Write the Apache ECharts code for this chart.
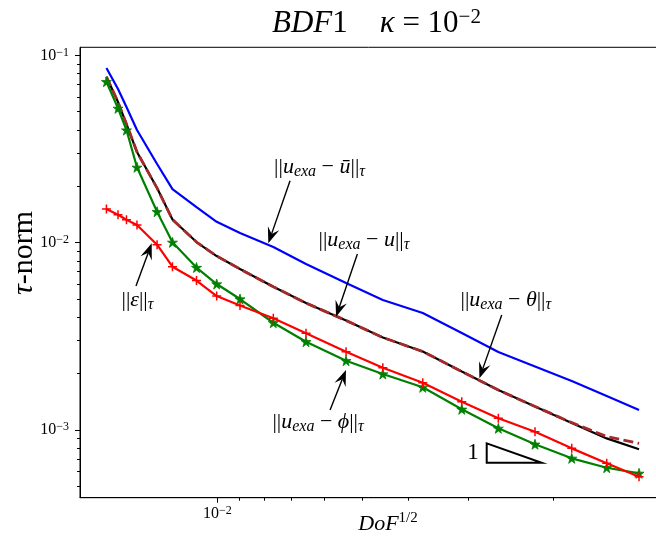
<!DOCTYPE html>
<html><head><meta charset="utf-8">
<script src="https://cdn.jsdelivr.net/npm/echarts@6/dist/echarts.min.js"></script>
<style>html,body{margin:0;padding:0;background:#fff}#c{width:656px;height:541px}</style>
</head><body><div id="c"></div>
<script>
// ---- data ----
const h = [0.01702, 0.01610, 0.01546, 0.01470, 0.01335, 0.01240, 0.01105, 0.01003, 0.008969, 0.007644,
           0.006535, 0.005393, 0.004521, 0.003733, 0.003096, 0.002598, 0.002179, 0.001827, 0.001545, 0.001323];
const errUbar  = [0.08554, 0.06607, 0.05297, 0.03992, 0.02629, 0.01933, 0.01549, 0.01293, 0.01126, 0.009480,
                  0.007691, 0.006090, 0.004942, 0.004211, 0.003294, 0.002608, 0.002183, 0.001827, 0.001519, 0.001279];
const errU     = [0.07686, 0.05632, 0.04298, 0.03048, 0.01957, 0.01329, 0.01008, 0.008485, 0.007234, 0.005818,
                  0.004763, 0.003842, 0.003118, 0.002624, 0.002053, 0.001635, 0.001335, 0.001096, 0.000923, 0.000849];
const errTheta = [0.07686, 0.05632, 0.04298, 0.03048, 0.01957, 0.01329, 0.01008, 0.008485, 0.007234, 0.005818,
                  0.004763, 0.003842, 0.003118, 0.002624, 0.002053, 0.001635, 0.001335, 0.001090, 0.000902, 0.000790];
const errPhi   = [0.07229, 0.05213, 0.03992, 0.02525, 0.01463, 0.01004, 0.007368, 0.006016, 0.005003, 0.003737,
                  0.002960, 0.002344, 0.001990, 0.001690, 0.001290, 0.001021, 0.000839, 0.000706, 0.000629, 0.000587];
const errEps   = [0.01512, 0.01410, 0.01326, 0.01242, 0.00975, 0.007440, 0.006281, 0.005190, 0.004617, 0.003946,
                  0.003282, 0.002617, 0.002150, 0.001788, 0.001416, 0.001155, 0.000979, 0.000798, 0.000664, 0.000563];

// axis limits (real values) and tick values
const xLimits = [0.001208, 0.01932];   // axis is reversed: large h on the left
const yLimits = [0.0004352, 0.1104];
const xMajorTicks = [0.01];
const yMajorTicks = [0.1, 0.01, 0.001];

// annotations: text position, arrow tail, arrow tip (data values)
const annUbar  = {pos: [0.006124, 0.02543], tail: [0.007055, 0.02142], tip: [0.007830, 0.009920]};
const annU     = {pos: [0.004948, 0.01033], tail: [0.005108, 0.008700], tip: [0.005658, 0.004025]};
const annTheta = {pos: [0.002506, 0.004943], tail: [0.002556, 0.004109], tip: [0.002845, 0.001888]};
const annPhi   = {pos: [0.006168, 0.001107], tail: [0.005823, 0.001278], tip: [0.005395, 0.002091]};
const annEps   = {pos: [0.014665, 0.004943], tail: [0.014770, 0.005869], tip: [0.013698, 0.009920]};
const slopeTri = [[0.002747, 0.0008492], [0.002747, 0.0006691], [0.002110, 0.0006691]];
const slopeLabelPos = [0.002933, 0.0007508];

// ---- helpers ----
const L = Math.log10;
const pairs = ys => h.map((x, i) => [L(x), L(ys[i])]);
function minorTicks(lim) {
  const out = [];
  for (let e = -6; e <= 1; e++) for (let k = 2; k <= 9; k++) {
    const v = k * Math.pow(10, e);
    if (v >= lim[0] && v <= lim[1]) out.push(L(v));
  }
  return out;
}
const serif = 'Liberation Serif';
const tickRich = {
  b: {fontFamily: serif, fontSize: 16, lineHeight: 18, color: '#000'},
  s: {fontFamily: serif, fontSize: 12, lineHeight: 11, verticalAlign: 'top', color: '#000'}
};
const fmtPow = v => '{b|10}{s|−' + Math.round(-v) + '}';

const STAR = (() => {
  const p = [];
  for (let i = 0; i < 10; i++) {
    const r = i % 2 === 0 ? 1 : 0.381966, a = Math.PI / 2 + i * Math.PI / 5;
    p.push((r * Math.cos(a)).toFixed(4) + ',' + (-r * Math.sin(a)).toFixed(4));
  }
  return 'path://M' + p.join('L') + 'Z';
})();
const PLUS = 'path://M0,-1L0,1M-1,0L1,0';

const chart = echarts.init(document.getElementById('c'), null, {renderer: 'canvas'});

chart.setOption({
  animation: false,
  backgroundColor: '#fff',
  grid: {left: 80, right: -2, top: 47.3, bottom: 43.3, show: true, borderColor: '#000', borderWidth: 1,
         backgroundColor: 'transparent', containLabel: false, outerBoundsMode: 'none'},
  xAxis: [
    {type: 'value', min: L(xLimits[0]), max: L(xLimits[1]), inverse: true, position: 'bottom',
     axisLine: {show: true, onZero: false, lineStyle: {color: '#000', width: 1}},
     axisTick: {show: true, length: 5, customValues: xMajorTicks.map(L), lineStyle: {color: '#000', width: 1}},
     axisLabel: {show: true, customValues: xMajorTicks.map(L), formatter: fmtPow, rich: tickRich, margin: 7},
     splitLine: {show: false}},
    {type: 'value', min: L(xLimits[0]), max: L(xLimits[1]), inverse: true, position: 'bottom',
     axisLine: {show: false, onZero: false},
     axisTick: {show: true, length: 3, customValues: minorTicks(xLimits), lineStyle: {color: '#000', width: 1}},
     axisLabel: {show: false}, splitLine: {show: false}}
  ],
  yAxis: [
    {type: 'value', min: L(yLimits[0]), max: L(yLimits[1]), position: 'left',
     axisLine: {show: true, onZero: false, lineStyle: {color: '#000', width: 1}},
     axisTick: {show: true, length: 5, customValues: yMajorTicks.map(L), lineStyle: {color: '#000', width: 1}},
     axisLabel: {show: true, customValues: yMajorTicks.map(L), formatter: fmtPow, rich: tickRich, margin: 11},
     splitLine: {show: false}},
    {type: 'value', min: L(yLimits[0]), max: L(yLimits[1]), position: 'left',
     axisLine: {show: false, onZero: false},
     axisTick: {show: true, length: 3, customValues: minorTicks(yLimits), lineStyle: {color: '#000', width: 1}},
     axisLabel: {show: false}, splitLine: {show: false}}
  ],
  series: [
    {name: 'ubar', type: 'line', data: pairs(errUbar), showSymbol: false, symbol: 'none',
     lineStyle: {color: '#0000ff', width: 2.2}, z: 2},
    {name: 'theta', type: 'line', data: pairs(errTheta), showSymbol: false, symbol: 'none',
     lineStyle: {color: '#000000', width: 2.2}, z: 3},
    {name: 'u', type: 'line', data: pairs(errU), showSymbol: false, symbol: 'none',
     lineStyle: {color: '#a52a2a', width: 2.8, type: [10, 4.4]}, z: 4},
    {name: 'phi', type: 'line', data: pairs(errPhi), symbol: STAR, symbolSize: 10,
     itemStyle: {color: '#008000', borderColor: '#008000', borderWidth: 0.8},
     lineStyle: {color: '#008000', width: 2.2}, z: 5},
    {name: 'eps', type: 'line', data: pairs(errEps), symbol: PLUS, symbolSize: 9,
     itemStyle: {color: '#ff0000', borderColor: '#ff0000', borderWidth: 1.5},
     lineStyle: {color: '#ff0000', width: 2.2}, z: 6}
  ]
});

// ---- annotations, positioned through the chart's own coordinate system ----
const px = p => chart.convertToPixel({gridIndex: 0}, [L(p[0]), L(p[1])]);
const annColor = '#333';
const annRich = {
  m: {fontFamily: serif, fontSize: 22, lineHeight: 26, color: annColor},
  i: {fontFamily: serif, fontSize: 22, lineHeight: 26, fontStyle: 'italic', color: annColor},
  sub: {fontFamily: serif, fontSize: 16, lineHeight: 15, fontStyle: 'italic', verticalAlign: 'bottom', color: annColor}
};
function arrow(a) {
  const t = px(a.tail), p = px(a.tip);
  const dx = p[0] - t[0], dy = p[1] - t[1], len = Math.hypot(dx, dy);
  const ux = dx / len, uy = dy / len, nx = -uy, ny = ux;
  const hl = 16, hw = 6, notch = 10;
  const back = [p[0] - ux * hl, p[1] - uy * hl];
  const nb = [p[0] - ux * notch, p[1] - uy * notch];
  return [
    {type: 'line', shape: {x1: t[0], y1: t[1], x2: nb[0], y2: nb[1]}, style: {stroke: '#000', lineWidth: 1.4}, z: 50},
    {type: 'polygon', shape: {points: [p, [back[0] + nx * hw, back[1] + ny * hw], nb, [back[0] - nx * hw, back[1] - ny * hw]]},
     style: {fill: '#000'}, z: 50}
  ];
}
function label(pos, text) {
  const q = px(pos);
  return {type: 'text', x: q[0], y: q[1], z: 50,
          style: {text: text, rich: annRich, align: 'center', verticalAlign: 'middle'}};
}
const tri = slopeTri.map(px);
const one = px(slopeLabelPos);
const graphics = [].concat(
  arrow(annUbar), arrow(annU), arrow(annTheta), arrow(annPhi), arrow(annEps),
  [
    label(annUbar.pos,  '{m|||}{i|u}{sub|exa}{m| − }{i|ū}{m|||}{sub|τ}'),
    label(annU.pos,     '{m|||}{i|u}{sub|exa}{m| − }{i|u}{m|||}{sub|τ}'),
    label(annTheta.pos, '{m|||}{i|u}{sub|exa}{m| − }{i|θ}{m|||}{sub|τ}'),
    label(annPhi.pos,   '{m|||}{i|u}{sub|exa}{m| − }{i|ϕ}{m|||}{sub|τ}'),
    label(annEps.pos,   '{m|||}{i|ε}{m|||}{sub|τ}'),
    {type: 'polygon', shape: {points: tri}, style: {fill: 'none', stroke: '#000', lineWidth: 2}, z: 50},
    {type: 'text', x: one[0], y: one[1], z: 50,
     style: {text: '1', font: '23px "Liberation Serif"', fill: '#000', align: 'center', verticalAlign: 'middle'}},
    // title
    {type: 'text', x: 272, y: 24, z: 50,
     style: {text: '{i|BDF}{m|1}{g| }{i|κ}{m| = 10}{s|−2}', align: 'left', verticalAlign: 'middle',
             rich: {
               i: {fontFamily: serif, fontSize: 31, lineHeight: 34, fontStyle: 'italic', color: '#000'},
               m: {fontFamily: serif, fontSize: 31, lineHeight: 34, color: '#000'},
               g: {fontFamily: serif, fontSize: 31, lineHeight: 34, width: 32},
               s: {fontFamily: serif, fontSize: 21, lineHeight: 16, verticalAlign: 'top', color: '#000'}
             }}},
    // x axis name
    {type: 'text', x: 388, y: 524, z: 50,
     style: {text: '{i|DoF}{s|1/2}', align: 'center', verticalAlign: 'middle',
             rich: {
               i: {fontFamily: serif, fontSize: 22, lineHeight: 26, fontStyle: 'italic', color: '#000'},
               s: {fontFamily: serif, fontSize: 15, lineHeight: 14, verticalAlign: 'top', color: '#000'}
             }}},
    // y axis name
    {type: 'text', x: 24, y: 253, rotation: Math.PI / 2, z: 50,
     style: {text: '{i|τ}{m|-norm}', align: 'center', verticalAlign: 'middle',
             rich: {
               i: {fontFamily: serif, fontSize: 30, lineHeight: 32, fontStyle: 'italic', color: '#000'},
               m: {fontFamily: serif, fontSize: 30, lineHeight: 32, color: '#000'}
             }}}
  ]
);
chart.setOption({graphic: graphics});
</script>
</body></html>
